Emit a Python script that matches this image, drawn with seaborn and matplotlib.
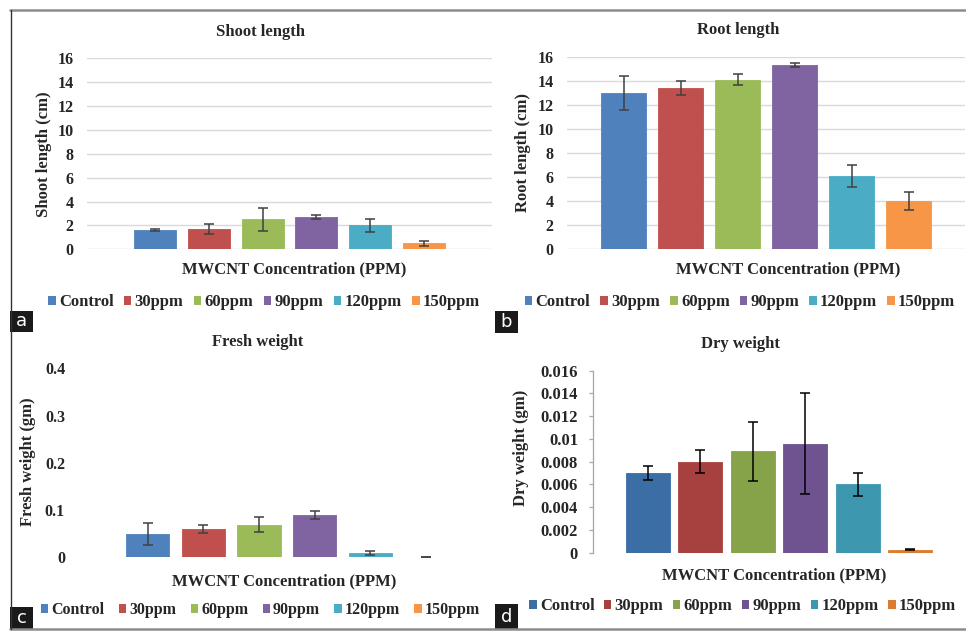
import numpy as np
import matplotlib
matplotlib.use("Agg")
import matplotlib.pyplot as plt
from matplotlib.patches import Patch, Rectangle
from matplotlib.lines import Line2D
import seaborn as sns

sns.set_style("white")
plt.rcParams["font.family"] = ["Liberation Serif", "DejaVu Serif"]
plt.rcParams["font.weight"] = "bold"

# ---------------------------------------------------------
# data
# ---------------------------------------------------------
groups = ["Control", "30ppm", "60ppm", "90ppm", "120ppm", "150ppm"]

shoot_len = [1.6, 1.7, 2.5, 2.7, 2.0, 0.5]
shoot_err = [0.1, 0.4, 1.0, 0.15, 0.56, 0.23]

root_len = [13.0, 13.4, 14.1, 15.3, 6.1, 4.0]
root_err = [1.4, 0.62, 0.45, 0.15, 0.92, 0.73]

fresh_wt = [0.049, 0.059, 0.069, 0.089, 0.009, 0.001]
fresh_err = [0.024, 0.0085, 0.0155, 0.008, 0.0045, 0.0006]

dry_wt = [0.007, 0.008, 0.0089, 0.0096, 0.006, 0.00026]
dry_err = [0.0006, 0.001, 0.00257, 0.00445, 0.001, 0.00006]

len_ticks = [0, 2, 4, 6, 8, 10, 12, 14, 16]
len_labels = ["0", "2", "4", "6", "8", "10", "12", "14", "16"]
fresh_ticks = [0, 0.1, 0.2, 0.3, 0.4]
fresh_labels = ["0", "0.1", "0.2", "0.3", "0.4"]
dry_ticks = [0, 0.002, 0.004, 0.006, 0.008, 0.01, 0.012, 0.014, 0.016]
dry_labels = ["0", "0.002", "0.004", "0.006", "0.008", "0.01", "0.012", "0.014", "0.016"]

office = ["#4F81BD", "#C0504D", "#9BBB59", "#8064A2", "#4BACC6", "#F79646"]
office_dark = ["#3C6EA6", "#A6413F", "#86A34A", "#6E5390", "#3D97AE", "#DD7C30"]

# ---------------------------------------------------------
# figure, laid out in pixels
# ---------------------------------------------------------
W, H = 966, 631
fig = plt.figure(figsize=(W / 100, H / 100), dpi=100)


def fx(x):
    return x / W


def fy(y):
    return 1 - y / H


def add_panel(l, r, t, b):
    return fig.add_axes([fx(l), fy(b), fx(r) - fx(l), fy(t) - fy(b)])


def bars(ax, vals, errs, colors, width, ecolor):
    sns.barplot(x=groups, y=vals, hue=groups, palette=colors, legend=False,
                saturation=1, width=width, errorbar=None, ax=ax)
    # thin edge in the bar's own colour so near-zero bars still show up
    for bar in ax.patches:
        bar.set_edgecolor(bar.get_facecolor())
        bar.set_linewidth(0.6)
    ax.errorbar(np.arange(len(groups)), vals, yerr=errs, fmt="none",
                ecolor=ecolor, elinewidth=1.1, capsize=3.5, capthick=1.1,
                zorder=3)
    ax.set_xticks([])
    ax.set_xlabel("")
    ax.set_ylabel("")
    ax.set_facecolor("none")
    sns.despine(ax=ax, left=True, bottom=True)


panels = [
    dict(vals=shoot_len, errs=shoot_err, colors=office, rect=(87.3, 491.7, 58.3, 249.3),
         xlim=(-1.258, 6.258), ylim=(0, 16), ticks=len_ticks, labels=len_labels,
         width=0.78, grid=True, title="Shoot length", title_xy=(260, 31.5),
         ylabel="Shoot length (cm)", ylabel_xy=(44, 154), xlabel_xy=(294, 269),
         leg_xy=(264, 302.5), leg_fs=12, leg_cs=0.62, ecolor="#404040"),
    dict(vals=root_len, errs=root_err, colors=office, rect=(567.3, 965, 56.7, 249.3),
         xlim=(-0.985, 5.985), ylim=(0, 16), ticks=len_ticks, labels=len_labels,
         width=0.785, grid=True, title="Root length", title_xy=(738, 30),
         ylabel="Root length (cm)", ylabel_xy=(523, 153), xlabel_xy=(788, 269.5),
         leg_xy=(740, 302.5), leg_fs=12, leg_cs=0.6, ecolor="#404040"),
    dict(vals=fresh_wt, errs=fresh_err, colors=office, rect=(79, 494.7, 368.3, 557.3),
         xlim=(-1.23, 6.23), ylim=(0, 0.4), ticks=fresh_ticks, labels=fresh_labels,
         width=0.78, grid=False, title="Fresh weight", title_xy=(257.5, 342.5),
         ylabel="Fresh weight (gm)", ylabel_xy=(28, 462), xlabel_xy=(284, 581.7),
         leg_xy=(260.5, 610), leg_fs=11.5, leg_cs=0.9, ecolor="#404040"),
    dict(vals=dry_wt, errs=dry_err, colors=office_dark, rect=(593.3, 964.9, 370.7, 552.7),
         xlim=(-1.04, 6.04), ylim=(0, 0.016), ticks=dry_ticks, labels=dry_labels,
         width=0.84, grid=False, title="Dry weight", title_xy=(740, 344),
         ylabel="Dry weight (gm)", ylabel_xy=(521, 448), xlabel_xy=(774, 575.7),
         leg_xy=(742.5, 606), leg_fs=12, leg_cs=0.56, ecolor="black"),
]

for i, p in enumerate(panels):
    ax = add_panel(*p["rect"])
    bars(ax, p["vals"], p["errs"], p["colors"], p["width"], p["ecolor"])
    ax.set_xlim(*p["xlim"])
    ax.set_ylim(*p["ylim"])
    ax.set_yticks(p["ticks"])
    ax.set_yticklabels(p["labels"], fontsize=11.5, fontweight="bold")
    ax.tick_params(axis="y", length=0, pad=10)
    if p["grid"]:
        ax.set_axisbelow(True)
        ax.yaxis.grid(True, color="#D9D9D9", linewidth=1.0)
    else:
        ax.grid(False)
    if i == 3:
        ax.spines["left"].set_visible(True)
        ax.spines["left"].set_color("#A6A6A6")
        ax.spines["left"].set_linewidth(0.9)
        ax.tick_params(axis="y", length=3, width=0.9, color="#A6A6A6",
                       direction="out", pad=8, left=True)
        for t in ax.get_yticklabels():
            t.set_fontsize(12)

    fig.text(fx(p["title_xy"][0]), fy(p["title_xy"][1]), p["title"],
             ha="center", va="center", fontsize=12, fontweight="bold")
    fig.text(fx(p["ylabel_xy"][0]), fy(p["ylabel_xy"][1]), p["ylabel"],
             ha="center", va="center", rotation=90, fontsize=12, fontweight="bold")
    fig.text(fx(p["xlabel_xy"][0]), fy(p["xlabel_xy"][1]), "MWCNT Concentration (PPM)",
             ha="center", va="center", fontsize=12, fontweight="bold")

    handles = [Patch(facecolor=c, edgecolor="none") for c in p["colors"]]
    fig.legend(handles, groups, loc="center",
               bbox_to_anchor=(fx(p["leg_xy"][0]), fy(p["leg_xy"][1])),
               ncol=6, frameon=False,
               prop={"weight": "bold", "size": p["leg_fs"]},
               handlelength=0.45, handleheight=0.45, handletextpad=0.2,
               columnspacing=p["leg_cs"], borderpad=0, borderaxespad=0)

# outer frame
fig.add_artist(Line2D([fx(10), fx(966)], [fy(10), fy(10)], color="#8C8C8C", linewidth=1.8))
fig.add_artist(Line2D([fx(10), fx(966)], [fy(628.5), fy(628.5)], color="#8C8C8C", linewidth=1.8))
fig.add_artist(Line2D([fx(10.5), fx(10.5)], [fy(10), fy(629)], color="#333333", linewidth=1.0))

# panel letters
letter_boxes = {"a": (10, 33, 311, 332), "b": (495, 518, 311, 333),
                "c": (10, 33, 607, 629), "d": (495, 518, 604, 629)}
for letter, (l, r, t, b) in letter_boxes.items():
    fig.add_artist(Rectangle((fx(l), fy(b)), fx(r) - fx(l), fy(t) - fy(b),
                             transform=fig.transFigure, facecolor="#1A1A1A",
                             edgecolor="none"))
    fig.text(fx((l + r) / 2), fy((t + b) / 2), letter, ha="center", va="center",
             color="white", fontsize=13, fontweight="normal",
             family=["DejaVu Sans"])

plt.savefig("out.png", dpi=100, facecolor="white")
